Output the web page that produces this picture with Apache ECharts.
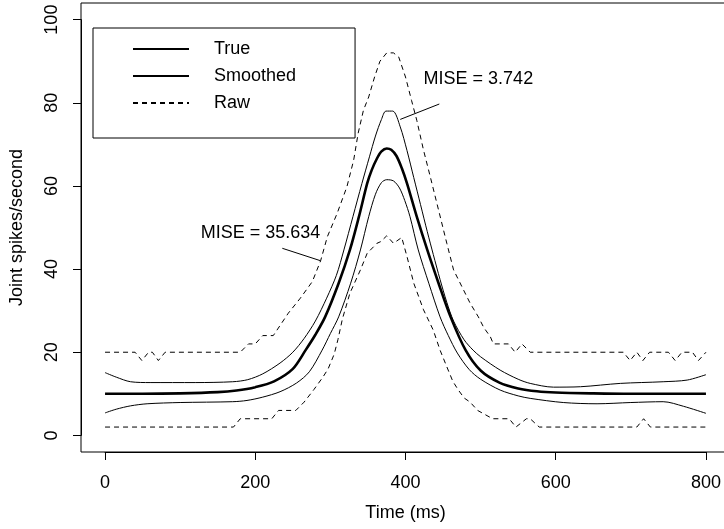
<!DOCTYPE html>
<html><head><meta charset="utf-8">
<script src="https://cdn.jsdelivr.net/npm/echarts@6/dist/echarts.min.js"></script>
<style>html,body{margin:0;padding:0;background:#fff}#c{width:724px;height:529px}</style>
</head><body><div id="c"></div>
<script>
// ---- data ----
const trueT = [0,50,100,150,175,200,225,250,267,280,293,311,326,338,349,355,362,368,375,381,388,395,402,415,429,444,460,480,500,525,550,575,600,650,700,800];
const trueV = [10,10,10.1,10.4,10.8,11.6,13,16,20.5,24.2,28.5,36.6,44.6,52.6,60.6,63.8,66.6,68.3,69,68.7,67.2,64.3,60.6,52.6,44.6,36.6,28.5,20.5,15.6,12.7,11.3,10.6,10.3,10.1,10,10];

const smUpT = [0,15,34,60,120,170,190,210,233,250,265,280,295,308,318,330,342,352,360,368,374,383,393,402,411,420,429,437,446,455,464,478,490,500,526,550,566,597,633,686,743,775,800];
const smUpV = [15.1,14,12.9,12.7,12.7,12.9,13.4,14.8,17.4,20,23.3,27.5,33,38.5,44.6,52.6,60.6,67,72,76,78,78,74.2,68.5,62,55.5,49,43.5,37.5,32,27.5,23,20.5,18.9,15.7,13.5,12.5,11.6,11.7,12.5,12.9,13.3,14.6];

const smLoT = [0,15,34,56,100,170,189,210,233,255,272,289,300,311,327,340,351,360,368,375,384,392,399,406,417,431,446,457,469,485,500,526,550,566,610,655,700,743,770,800];
const smLoV = [5.4,6.3,7.1,7.6,7.9,8.1,8.4,9.2,10.5,12.6,15.3,20.5,24.5,28.5,36.6,44.6,52.6,58,60.8,61.5,61.2,59.5,56.5,52.6,44.6,36.6,28.5,24,19.8,15.8,13.5,10.9,9.5,8.9,7.9,7.6,7.9,8.1,7,5.3];

const rawUpT = [0,40,49,58,63,71,80,180,191,200,210,224,244,260,276,287,296,309,322,331,337,344,351,359,366,375,384,391,400,408,415,424,433,444,455,464,475,486,497,504,513,517,537,546,555,566,690,699,708,716,725,750,759,768,782,790,800];
const rawUpV = [20,20,18,20,20,18,20,20,22,22,24,24,29.4,33,37,42,47.8,53.4,59.8,66.2,72.7,78.2,81.4,86.3,90,92,92,91,86.2,80.6,75.8,68.6,62.2,54.2,46.2,39.8,35.8,31.8,28.5,26,23.7,22,22,20,22,20,20,18,20,18,20,20,18,20,20,18,20];

const rawLoT = [0,171,180,222,231,254,265,278,290,297,305,310,316,326,340,349,362,367,375,384,395,402,411,424,437,446,455,463,470,478,486,496,516,538,547,561,566,578,708,717,726,800];
const rawLoV = [2,2,4,4,6,6,8,11,14,16,19.5,23,28,34.2,39.8,43.8,46.2,46.6,48,46.2,47.6,43,36.6,30.2,25.3,20.5,16.5,13,11,9,8,6,4,4,2,4,4,2,2,4,2,2];

const xTickMin = 0, xTickMax = 800, xTickStep = 200;
const yTickMin = 0, yTickMax = 100, yTickStep = 20;
const legendNames = ['True','Smoothed','Raw'];
const xLabel = 'Time (ms)';
const yLabel = 'Joint spikes/second';
// annotations: text, text anchor (data), pointer start, pointer end (data)
const notes = [
  {text:'MISE = 3.742',  at:[497,85.7], from:[393,76],  to:[445,79.7]},
  {text:'MISE = 35.634', at:[207,48.7], from:[236,45],  to:[287,42]}
];

// ---- chart ----
const font = '"Liberation Sans", Arial, Helvetica, sans-serif';
const pairs = (t,v) => t.map((x,i)=>[x,v[i]]);
const chart = echarts.init(document.getElementById('c'), null, {renderer:'canvas'});
// plot region (R adds 4% padding on each side of the data range)
const X_RANGE = {min:-32, max:832};
const Y_RANGE = {min:-4, max:104};
const box = {left:81, top:3, width:649, height:449};
const xPx = v => box.left + (v - X_RANGE.min) / (X_RANGE.max - X_RANGE.min) * box.width;
const yPx = v => box.top + (Y_RANGE.max - v) / (Y_RANGE.max - Y_RANGE.min) * box.height;
const tickStyle = {color:'#000', width:1};
const txt = {fontSize:18, color:'#000', fontFamily:font};

function lineSeries(name, t, v, width, type, smooth){
  return {name:name, type:'line', data:pairs(t,v), symbol:'none', smooth:smooth,
    clip:true, silent:true, xAxisIndex:0, yAxisIndex:0,
    lineStyle:{color:'#000', width:width, type:type},
    itemStyle:{color:'#000'}};
}
const series = [
  lineSeries('Raw', rawUpT, rawUpV, 1, [5,4], false),
  lineSeries('Raw', rawLoT, rawLoV, 1, [5,4], false),
  lineSeries('Smoothed', smUpT, smUpV, 1, 'solid', 0.3),
  lineSeries('Smoothed', smLoT, smLoV, 1, 'solid', 0.3),
  lineSeries('True', trueT, trueV, 2.6, 'solid', 0.3)
];
series.push({type:'line', data:[], symbol:'none', silent:true, xAxisIndex:0, yAxisIndex:0,
  markLine:{silent:true, symbol:'none', animation:false, label:{show:false},
    lineStyle:{color:'#000', width:1, type:'solid'},
    data: notes.map(n=>[{coord:n.from},{coord:n.to}])}});

// tick grids: same pixel scale as the plot box, spanning only the tick range (as R's axis())
const gx = {left:xPx(xTickMin), top:box.top, width:xPx(xTickMax)-xPx(xTickMin), height:box.height};
const gy = {left:box.left, top:yPx(yTickMax), width:box.width, height:yPx(yTickMin)-yPx(yTickMax)};

chart.setOption({
  animation:false,
  textStyle:{fontFamily:font},
  grid:[
    Object.assign({show:true, borderColor:'#000', borderWidth:1, outerBoundsMode:'none'}, box),
    Object.assign({show:false, outerBoundsMode:'none'}, gx),
    Object.assign({show:false, outerBoundsMode:'none'}, gy)
  ],
  xAxis:[
    {gridIndex:0, type:'value', min:X_RANGE.min, max:X_RANGE.max, show:false},
    {gridIndex:1, type:'value', min:xTickMin, max:xTickMax, interval:xTickStep, position:'bottom',
      axisLine:{show:true, onZero:false, lineStyle:{color:'#000', width:1}},
      axisTick:{show:true, length:8, lineStyle:tickStyle},
      axisLabel:Object.assign({show:true, margin:22}, txt),
      splitLine:{show:false},
      name:xLabel, nameLocation:'middle', nameGap:52, nameTextStyle:txt},
    {gridIndex:2, type:'value', show:false}
  ],
  yAxis:[
    {gridIndex:0, type:'value', min:Y_RANGE.min, max:Y_RANGE.max, show:false},
    {gridIndex:1, type:'value', show:false},
    {gridIndex:2, type:'value', min:yTickMin, max:yTickMax, interval:yTickStep, position:'left',
      axisLine:{show:true, onZero:false, lineStyle:{color:'#000', width:1}},
      axisTick:{show:true, length:8, lineStyle:tickStyle},
      axisLabel:Object.assign({show:true, rotate:90, margin:20}, txt),
      splitLine:{show:false},
      name:yLabel, nameLocation:'middle', nameGap:55, nameRotate:90, nameTextStyle:txt}
  ],
  legend:{data:legendNames, orient:'vertical', left:93, top:28,
    padding:[12,59,26,39], itemWidth:56, itemHeight:14, itemGap:9,
    borderColor:'#000', borderWidth:1, backgroundColor:'#fff', selectedMode:false,
    itemStyle:{color:'rgba(0,0,0,0)', borderColor:'rgba(0,0,0,0)', borderWidth:0},
    textStyle:Object.assign({padding:[0,0,0,20]}, txt)},
  series:series
});

const g = notes.map(n=>{
  const p = chart.convertToPixel({xAxisIndex:0, yAxisIndex:0}, n.at);
  return {type:'text', x:p[0], y:p[1], silent:true,
    style:{text:n.text, fill:'#000', font:'18px '+font, textAlign:'center', textVerticalAlign:'middle'}};
});
chart.setOption({graphic:g});
</script></body></html>
